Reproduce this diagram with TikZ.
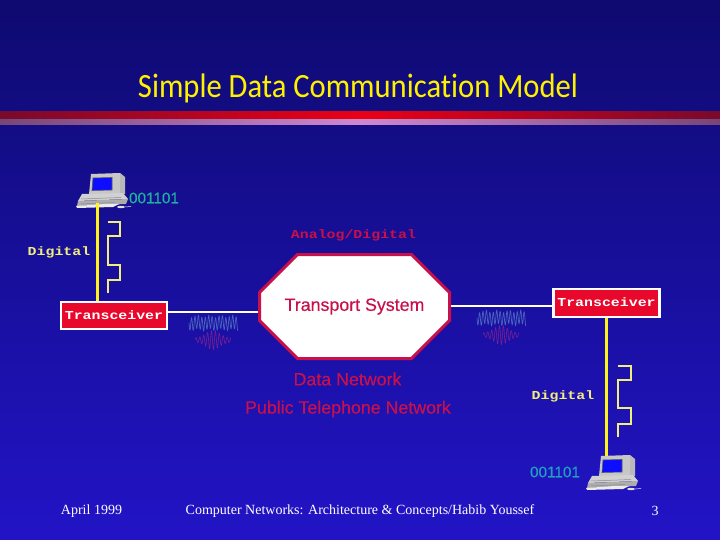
\documentclass[tikz,border=0pt]{standalone}
\usepackage{fontspec}
\setmainfont{Liberation Sans}
\newfontfamily\serifx{Liberation Serif}
\newfontfamily\monox[FakeStretch=1.22]{Liberation Mono}
\newfontfamily\titlex[FakeStretch=0.9,Ligatures=NoCommon]{Carlito}
\newfontfamily\sansheavy[FakeBold=0.35]{Liberation Sans}
\usetikzlibrary{shapes.misc}
\definecolor{bgtop}{HTML}{0E0A70}
\definecolor{bgbot}{HTML}{2214C6}
\definecolor{crim}{HTML}{C8104A}
\definecolor{trred}{HTML}{E8082C}
\definecolor{pale}{HTML}{F2EE7C}
\definecolor{wavea}{HTML}{5A80C8}
\definecolor{waveb}{HTML}{8E2490}
\tikzset{
  x=1pt,y=-1pt,
  lab/.style={inner sep=0pt,anchor=center},
  sanslab/.style={lab,font=\sansheavy\fontsize{17.8}{20}\selectfont,text=crim},
  monolab/.style={lab,font=\monox\bfseries\fontsize{12.2}{14}\selectfont},
  footlab/.style={lab,text=white,font=\serifx\fontsize{14}{16}\selectfont},
  binlab/.style={lab,font=\sansheavy\fontsize{15.3}{17}\selectfont},
  trans/.style={draw=white,line width=2.4pt,fill=trred,minimum width=106pt,minimum height=27.5pt,inner sep=0pt,text=white,monolab},
  wire/.style={draw=white,line width=2.2pt},
  yline/.style={draw=yellow!90!white,line width=3pt},
  sig/.style={draw=pale,line width=1.7pt,line join=miter},
  pics/computer/.style={code={
    \fill[gray!55] (45,0)--(50,4)--(50,21)--(45,21)--cycle;
    \fill[black!22] (16,1)--(45,0)--(45,21)--(14,21)--cycle;
    \fill[blue!95!white,draw=black!65,line width=.6pt] (18,5)--(37,4.5)--(37,17)--(17,17.5)--cycle;
    \fill[black!18] (7,21)--(48,20)--(53,26)--(3,28)--cycle;
    \fill[black!32] (3,28)--(53,26)--(51,31)--(2,33)--cycle;
    \fill[white!92!black] (1,33)--(30,31)--(44,31)--(38,34)--(2,35)--cycle;
    \draw[black!45,line width=.5pt] (6,31)--(40,29.5) (6,26)--(46,24.5);
    \fill[black!12] (46,34) ellipse (4 and 1.2);
    \draw[black!8,line width=.5pt] (50,34)--(56,33.5);
  }},
  pics/waves/.style={code={
    \draw[wavea,opacity=.75,line width=.7pt] plot[domain=0:49,samples=260] (\x,{6.5*sin(\x*105)+1.2*sin(\x*31)});
    \draw[waveb,opacity=.8,line width=.6pt] plot[domain=6:42,samples=200] (\x,{17+(2+7.5*exp(-(\x-24)*(\x-24)/90))*sin(\x*92)});
  }},
}
\begin{document}
\begin{tikzpicture}
\useasboundingbox (0,0) rectangle (720,540);
\shade[top color=bgtop,bottom color=bgbot] (0,0) rectangle (720,540);
% bands
\shade[left color=crim!60!black,right color=crim!60!black,middle color=red!92!blue] (0,112) rectangle (720,119);
\shade[left color=black!15!violet!45!gray,right color=black!15!violet!45!gray,middle color={rgb,255:red,206;green,136;blue,208}] (0,120) rectangle (720,125);
% title
\node[lab,text=yellow,font=\titlex\fontsize{34}{36}\selectfont] (title) at (358,88) {Simple Data Communication Model};
% nodes
\coordinate (pcL) at (97,203);
\coordinate (pcR) at (606,456);
\pic at (75,173) {computer};
\pic at (585,455) {computer};
\node[trans] (transL) at (114,315.5) {\raisebox{1pt}{Transceiver}};
\node[trans] (transR) at (606.5,303) {\raisebox{1pt}{Transceiver}};
\node[chamfered rectangle,chamfered rectangle xsep=31pt,chamfered rectangle ysep=30pt,draw=crim,line width=3pt,fill=white,minimum width=190pt,minimum height=104pt,inner sep=0pt,sanslab] (ts) at (354.5,306.5) {\raisebox{-1.5pt}{Transport System}};
\draw[wire] (transL.east |- 0,312) -- (ts.west |- 0,312);
\draw[wire] (ts.east |- 0,306) -- (transR.west |- 0,306);
\draw[yline] (pcL) -- (pcL |- transL.north);
\draw[yline] (pcR) -- (pcR |- transR.south);
\draw[sig] (108,222)--(120,222)--(120,236)--(108,236)--(108,265)--(120,265)--(120,280)--(108,280)--(108,293);
\draw[sig] (618,366)--(631,366)--(631,380)--(618,380)--(618,408)--(631,408)--(631,424)--(618,424)--(618,437);
\pic at (189,323) {waves};
\pic at (477,318) {waves};
\node[binlab,text={rgb,255:red,32;green,176;blue,160}] (binL) at (154,198) {001101};
\node[binlab,text={rgb,255:red,32;green,160;blue,192}] (binR) at (555,472) {001101};
\node[monolab,text=crim] (ad) at (353.5,235) {Analog/Digital};
\node[monolab,text=pale] (digL) at (59,252) {Digital};
\node[monolab,text=pale] (digR) at (563,396) {Digital};
\node[sanslab] (dn) at (347.5,379) {Data Network};
\node[sanslab] (ptn) at (348,409) {Public Telephone Network};
\node[footlab] (date) at (91.5,511) {April 1999};
\node[footlab] (foot) at (360,511) {Computer Networks: Architecture \& Concepts/Habib Youssef};
\node[footlab] (page) at (655,511) {3};
\end{tikzpicture}
\end{document}
